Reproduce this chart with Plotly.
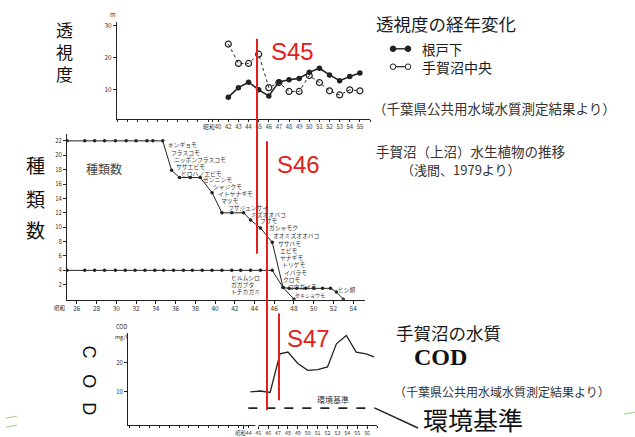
import plotly.graph_objects as go

W, H = 635, 437
JP = "Noto Sans CJK JP"
INK = "#222222"
RED = "#e3201b"

# ---------------- data ----------------
# Panel 1: 透視度 (transparency, m) by Showa year
tr_years = [42, 43, 44, 45, 46, 47, 48, 49, 50, 51, 52, 53, 54, 55]
tr_nedoshita = [7.6, 10.6, 12.3, 9.9, 8.0, 12.4, 13.1, 13.5, 15.4, 16.7, 14.6, 12.8, 14.1, 15.2]
tr_center = [24.3, 18.2, 18.2, 21.1, 10.6, 12.2, 9.4, 9.4, 14.4, 12.2, 9.6, 8.3, 9.9, 9.6]
tr_xticks = [40.4, 42, 43, 44, 45, 46, 47, 48, 49, 50, 51, 52, 53, 54, 55]
tr_xtext = ["昭和40", "42", "43", "44", "45", "46", "47", "48", "49", "50", "51", "52", "53", "54", "55"]
tr_yticks = [10, 20, 30]

# Panel 2: 種類数 (number of aquatic plant species)
sp_up_years = [25, 26.8, 27.8, 28.8, 29.9, 31.0, 32.0, 33.1, 33.7, 34.7, 35.6, 36.4, 37.5, 38.5,
               39.7, 40.7, 41.7, 42.9, 43.6, 44.6, 45.8, 46.9, 47.5, 48.3, 49.2, 50.0, 50.9,
               51.7, 52.3, 53.0]
sp_up_counts = [22, 22, 22, 22, 22, 22, 22, 22, 22, 22, 17.9, 16.9, 16.9, 16.9,
                14.8, 12.0, 12.0, 12.0, 11.0, 9.9, 7.9, 1.6, 1.5, 1.5, 1.5, 1.5, 1.5,
                1.5, 1.0, 0]
sp_lo_years = [25, 26.8, 27.8, 28.8, 29.9, 30.9, 31.9, 32.9, 33.9, 34.8, 35.8, 36.8, 37.7,
               38.7, 39.7, 40.7, 41.7, 42.6, 43.6, 44.6, 45.8, 46.9, 48.0]
sp_lo_counts = [4, 4, 4, 4, 4, 4, 4, 4, 4, 4, 4, 4, 4,
                4, 4, 4, 4, 4, 4, 4, 4, 1.6, 0]
sp_xticks = [26, 28, 30, 32, 34, 36, 38, 40, 42, 44, 46, 48, 50, 52, 54]
sp_yticks = [2, 4, 6, 8, 10, 12, 14, 16, 18, 20, 22]
species = ["キンギョモ", "フラスコモ", "ニッポンフラスコモ", "ササエビモ", "ヒロハノエビモ",
           "センニンモ", "シャジクモ", "イトヤナギモ", "マツモ", "フサジュンサイ",
           "ミズオオバコ", "フサモ", "ガシャモク", "オオミズオオバコ", "ササバモ", "エビモ",
           "ヤナギモ", "トリゲモ", "イバラモ", "クロモ", "コウガイモ",
           "ヒルムシロ", "ガガブタ", "トチカガミ", "ヒシ類"]
small_species = ["セキショウモ"]

# Panel 3: COD (mg/l)
cod_years = [44.2, 45.2, 46.2, 47.2, 48.0, 49.0, 50.0, 51.0, 52.0, 52.9, 53.9, 54.9, 55.9, 56.7]
cod_values = [9.9, 10.2, 9.7, 23.2, 23.8, 19.8, 17.4, 17.7, 18.6, 26.7, 29.6, 23.8, 23.2, 22.1]
std_years = [44.0, 56.8]
std_values = [4.2, 4.2]
cod_xticks = [43.5, 45, 46, 47, 48, 49, 50, 51, 52, 53, 54, 55, 56]
cod_xtext = ["昭和44", "45", "46", "47", "48", "49", "50", "51", "52", "53", "54", "55", "56"]
cod_yticks = [10, 20]

# ---------------- helpers ----------------
def px(x):
    return x / W


def py(y):
    return 1 - y / H


annotations = []


def ann(text, x, y, size, color=INK, xanchor="center", family=JP, angle=0, yanchor="middle"):
    annotations.append(dict(text=text, x=px(x), y=py(y), xref="paper", yref="paper",
                            showarrow=False, xanchor=xanchor, yanchor=yanchor,
                            textangle=angle, borderpad=0,
                            font=dict(size=size, color=color, family=family)))


shapes = []


def line(x0, y0, x1, y1, color=INK, width=1, dash="solid"):
    shapes.append(dict(type="line", xref="paper", yref="paper", x0=px(x0), y0=py(y0),
                       x1=px(x1), y1=py(y1), line=dict(color=color, width=width, dash=dash)))


def circle(cx, cy, r, fill):
    shapes.append(dict(type="circle", xref="paper", yref="paper",
                       x0=px(cx - r), x1=px(cx + r), y0=py(cy + r), y1=py(cy - r),
                       line=dict(color=INK, width=1), fillcolor=fill))


fig = go.Figure()

# Panel 1 traces
fig.add_trace(go.Scatter(x=tr_years, y=tr_center, mode="lines+markers", xaxis="x", yaxis="y",
                         line=dict(color=INK, width=1, dash="dot"),
                         marker=dict(symbol="circle-open", size=6, color=INK, line=dict(width=1.2))))
fig.add_trace(go.Scatter(x=tr_years, y=tr_nedoshita, mode="lines+markers", xaxis="x", yaxis="y",
                         line=dict(color=INK, width=1.6),
                         marker=dict(symbol="circle", size=5.5, color=INK)))

# Panel 2 traces
fig.add_trace(go.Scatter(x=sp_up_years, y=sp_up_counts, mode="lines+markers", xaxis="x2", yaxis="y2",
                         line=dict(color=INK, width=1), marker=dict(size=3.5, color=INK)))
fig.add_trace(go.Scatter(x=sp_lo_years, y=sp_lo_counts, mode="lines+markers", xaxis="x2", yaxis="y2",
                         line=dict(color=INK, width=1), marker=dict(size=3.5, color=INK)))

# Panel 3 traces
fig.add_trace(go.Scatter(x=cod_years, y=cod_values, mode="lines", xaxis="x3", yaxis="y3",
                         line=dict(color=INK, width=1.3)))
fig.add_trace(go.Scatter(x=std_years, y=std_values, mode="lines", xaxis="x3", yaxis="y3",
                         line=dict(color=INK, width=1.6, dash="dash")))


def axstyle(fs=6.5, tl=3):
    return dict(showgrid=False, zeroline=False, showline=True, linecolor=INK, linewidth=1,
                ticks="outside", ticklen=tl, tickcolor=INK, tickangle=0,
                tickfont=dict(size=fs, color="#333", family=JP))


fig.update_layout(
    width=W, height=H, margin=dict(l=0, r=0, t=0, b=0),
    paper_bgcolor="white", plot_bgcolor="white", showlegend=False,
    xaxis=dict(domain=[px(117), px(370)], range=[31, 56], anchor="y",
               tickvals=tr_xticks, ticktext=tr_xtext,
               minor=dict(dtick=1, tick0=31, ticks="outside", ticklen=2, tickcolor=INK),
               **axstyle(5.8, 2)),
    yaxis=dict(domain=[py(118), py(20)], range=[0.6, 31.25], anchor="x",
               tickvals=tr_yticks, **axstyle(6.5)),
    xaxis2=dict(domain=[px(67), px(365)], range=[25, 55.2], anchor="y2",
                tickvals=sp_xticks, **axstyle(6.5)),
    yaxis2=dict(domain=[py(299), py(133)], range=[-0.07, 22.9], anchor="x2",
                tickvals=sp_yticks, **axstyle(6)),
    xaxis3=dict(domain=[px(128), px(377)], range=[31.84, 57], anchor="y3",
                tickvals=cod_xticks, ticktext=cod_xtext,
                minor=dict(dtick=1, tick0=32, ticks="outside", ticklen=2, tickcolor=INK),
                **axstyle(5.3)),
    yaxis3=dict(domain=[py(425), py(333)], range=[-1.7, 30.3], anchor="x3",
                tickvals=cod_yticks, **axstyle(6)),
)

# ---- text: left vertical titles ----
ann("透<br>視<br>度", 64, 50, 17, color="#111")
for ch, yy in zip("種類数", [163, 197, 229]):
    ann(ch, 35, yy, 19, color="#111")
for ch, yy in zip("COD", [351, 381, 408]):
    ann(ch, 89, yy, 18, color="#111", family="Liberation Sans", angle=90)

# ---- panel 1 extras ----
ann("m", 113, 13, 6)
# ---- panel 2 extras ----
ann("種類数", 104, 167, 12, color="#444")
ann("昭和", 59, 307, 5.5)
sp_pos = [(167, 143), (170, 151), (173, 158), (175, 165), (180, 172),
          (202, 178.5), (212, 185), (217, 192), (220, 199), (227, 206),
          (250, 213), (259, 220), (268, 227), (272, 235), (277, 243), (279, 250),
          (279, 257), (281, 264), (283, 272), (282, 279), (287, 286),
          (230, 277), (230, 284), (230, 291), (337, 289)]
for name, (xx, yy) in zip(species, sp_pos):
    ann(name, xx, yy, 5.8, color="#333", xanchor="left")
for name in small_species:
    ann(name, 294, 294.5, 5, color="#333", xanchor="left")

# ---- panel 3 extras ----
ann("COD", 121, 326, 5.5)
ann("mg/l", 121, 337, 5.5)
ann("環境基準", 333, 399, 8, color="#333")
line(375, 408, 418, 428, width=1.5)
# axis break
shapes.append(dict(type="rect", xref="paper", yref="paper", x0=px(255.5), x1=px(258.5),
                   y0=py(427), y1=py(423), line=dict(width=0), fillcolor="white"))

# ---- right-side texts ----
ann("透視度の経年変化", 375, 22, 17.5, xanchor="left", color="#1a1a1a")
line(393, 47, 408, 47, width=1.4)
circle(393, 47, 2.8, INK)
circle(408, 47, 2.8, INK)
line(393, 65, 408, 65, width=1.2)
circle(393, 65, 2.8, "white")
circle(408, 65, 2.8, "white")
ann("根戸下", 421, 47, 13.5, xanchor="left", color="#1a1a1a")
ann("手賀沼中央", 421, 65, 14, xanchor="left", color="#1a1a1a")
ann("（千葉県公共用水域水質測定結果より）", 372, 106, 13.5, xanchor="left", color="#333")
ann("手賀沼（上沼）水生植物の推移", 375, 150, 13.5, xanchor="left", color="#333")
ann("（浅間、1979より）", 400, 168, 13, xanchor="left", color="#333")
ann("手賀沼の水質", 395, 332, 17.5, xanchor="left", color="#1a1a1a")
ann("<b>COD</b>", 413, 357, 24, xanchor="left", color="#111", family="Liberation Serif")
ann("（千葉県公共用水域水質測定結果より）", 393, 391, 12, xanchor="left", color="#333")
ann("環境基準", 422, 419, 25, xanchor="left", color="#111")

# ---- red overlay markings ----
line(257, 37, 257, 253, color=RED, width=2)
line(267, 140, 267, 410, color=RED, width=2)
line(279, 313, 279, 400, color=RED, width=2)
ann("S45", 292, 50, 24, color=RED, family="Liberation Sans")
ann("S46", 298, 163, 24, color=RED, family="Liberation Sans")
ann("S47", 308, 338, 24, color=RED, family="Liberation Sans")

# faint green scan marks
line(6, 418, 17, 416, color="#b5d69a", width=1.2)
line(6, 427, 17, 425, color="#b5d69a", width=1.2)
line(624, 414, 635, 412, color="#b5d69a", width=1.2)

fig.update_layout(annotations=annotations, shapes=shapes)

fig.write_html("out.html", config={"displayModeBar": False},
               post_script="document.body.style.margin='0';document.body.style.overflow='hidden';")
